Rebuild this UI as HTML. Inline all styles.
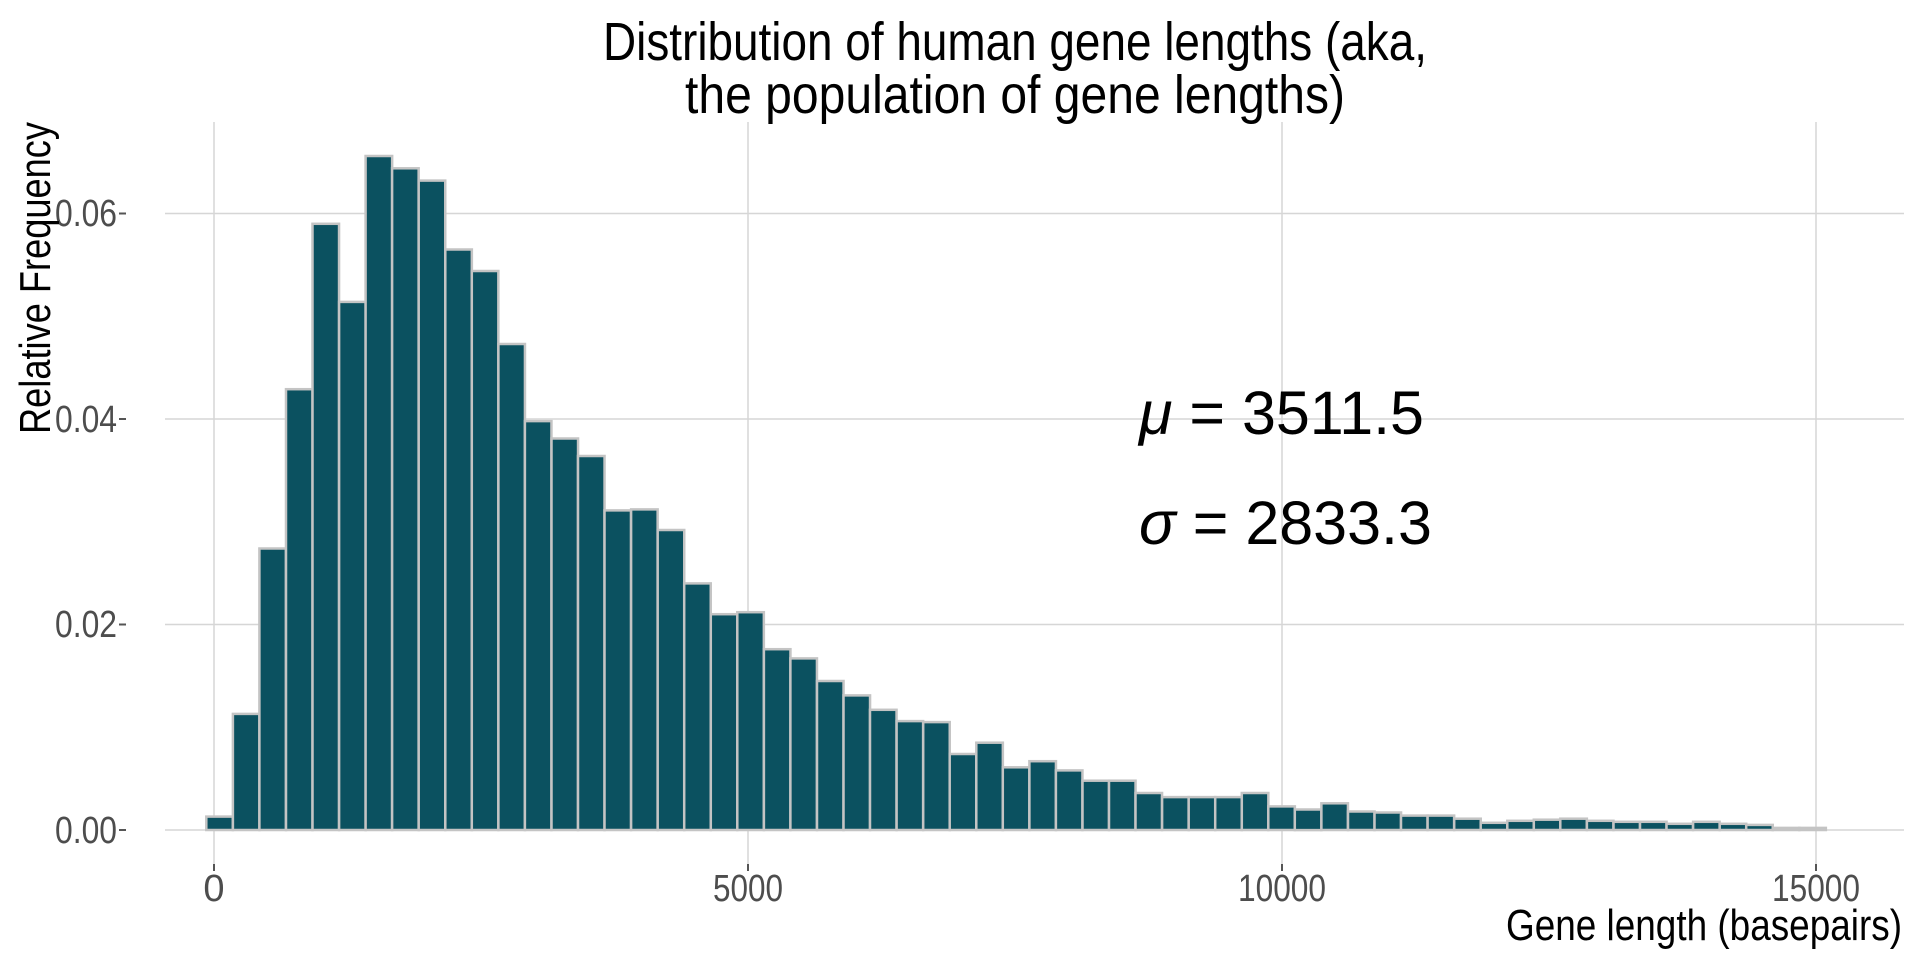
<!DOCTYPE html>
<html><head><meta charset="utf-8"><style>
html,body{margin:0;padding:0;background:#fff;}
svg{display:block;}
.c{font-family:"Liberation Sans Narrow","Liberation Sans",sans-serif;}
</style></head><body>
<svg width="1920" height="960" viewBox="0 0 1920 960" xmlns="http://www.w3.org/2000/svg">
<rect width="1920" height="960" fill="#fff"/>
<g stroke="#d6d6d6" stroke-width="1.5">
<line x1="165" y1="830" x2="1904" y2="830"/>
<line x1="165" y1="624.5" x2="1904" y2="624.5"/>
<line x1="165" y1="419" x2="1904" y2="419"/>
<line x1="165" y1="213.5" x2="1904" y2="213.5"/>
<line x1="214" y1="122" x2="214" y2="869"/>
<line x1="748" y1="122" x2="748" y2="869"/>
<line x1="1282" y1="122" x2="1282" y2="869"/>
<line x1="1816" y1="122" x2="1816" y2="869"/>
</g>
<g id="bars" fill="#0b5160" stroke="#c4c4c4" stroke-width="2.5"></g>
<g stroke="#555" stroke-width="2">
<line x1="119" y1="830" x2="126" y2="830"/><line x1="119" y1="624.5" x2="126" y2="624.5"/>
<line x1="119" y1="419" x2="126" y2="419"/><line x1="119" y1="213.5" x2="126" y2="213.5"/>
<line x1="214" y1="864" x2="214" y2="871"/><line x1="748" y1="864" x2="748" y2="871"/>
<line x1="1282" y1="864" x2="1282" y2="871"/><line x1="1816" y1="864" x2="1816" y2="871"/>
</g>
<g class="c" fill="#4d4d4d" font-size="38" text-anchor="end">
<text x="117" y="843" textLength="62" lengthAdjust="spacingAndGlyphs">0.00</text>
<text x="117" y="637" textLength="62" lengthAdjust="spacingAndGlyphs">0.02</text>
<text x="117" y="432" textLength="62" lengthAdjust="spacingAndGlyphs">0.04</text>
<text x="117" y="226" textLength="62" lengthAdjust="spacingAndGlyphs">0.06</text>
</g>
<g class="c" fill="#4d4d4d" font-size="38" text-anchor="middle">
<text x="214" y="901">0</text>
<text x="748" y="901" textLength="70" lengthAdjust="spacingAndGlyphs">5000</text>
<text x="1282" y="901" textLength="88" lengthAdjust="spacingAndGlyphs">10000</text>
<text x="1816" y="901" textLength="88" lengthAdjust="spacingAndGlyphs">15000</text>
</g>
<g class="c" fill="#000">
<text x="1015" y="60" font-size="54" text-anchor="middle" textLength="824" lengthAdjust="spacingAndGlyphs">Distribution of human gene lengths (aka,</text>
<text x="1015" y="113" font-size="54" text-anchor="middle" textLength="660" lengthAdjust="spacingAndGlyphs">the population of gene lengths)</text>
<text x="1902" y="940" font-size="44" text-anchor="end" textLength="396" lengthAdjust="spacingAndGlyphs">Gene length (basepairs)</text>
<text transform="translate(50,434) rotate(-90)" font-size="44" textLength="312" lengthAdjust="spacingAndGlyphs">Relative Frequency</text>
</g>
<g font-family="Liberation Sans, sans-serif" font-size="61" fill="#000">
<text x="1139" y="434"><tspan font-style="italic">μ</tspan> = 3511.5</text>
<text x="1139" y="544"><tspan font-style="italic">σ</tspan> = 2833.3</text>
</g>
</svg>
<script>
var v=[0.0013,0.0113,0.0274,0.0429,0.059,0.0514,0.0656,0.0644,0.0632,0.0565,0.0544,0.0473,0.0398,0.0381,0.0364,0.0311,0.0312,0.0292,0.0240,0.0210,0.0212,0.0176,0.0167,0.0145,0.0131,0.0117,0.0106,0.0105,0.0074,0.0085,0.0061,0.0067,0.0058,0.0048,0.0048,0.0036,0.0032,0.0032,0.0032,0.0036,0.0023,0.0020,0.0026,0.0018,0.0017,0.0014,0.0014,0.0011,0.0007,0.0009,0.0010,0.0011,0.0009,0.0008,0.0008,0.0006,0.0008,0.0006,0.0005,0.0002,0.0002];
var g=document.getElementById('bars'),s='';
for(var i=0;i<v.length;i++){var x=206.3+26.55*i,h=v[i]/0.02*205.5;
s+='<rect x="'+x.toFixed(1)+'" y="'+(830-h).toFixed(1)+'" width="26.55" height="'+h.toFixed(1)+'"/>';}
g.innerHTML=s;
</script>
</body></html>
